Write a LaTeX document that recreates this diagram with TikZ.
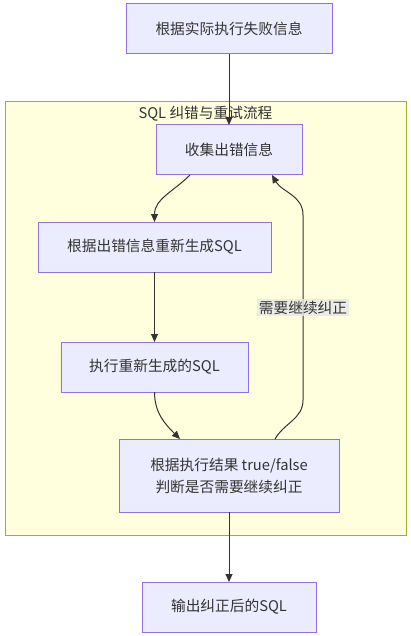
\documentclass[tikz,border=0pt]{standalone}
\usepackage{fontspec}
\setmainfont{Noto Sans CJK SC}
\usetikzlibrary{arrows.meta,positioning}
\definecolor{nodefill}{HTML}{ECECFF}
\definecolor{nodeline}{HTML}{9370DB}
\definecolor{clusterfill}{HTML}{FFFFDE}
\definecolor{clusterline}{HTML}{AAAA33}
\definecolor{edgegray}{HTML}{333333}
\definecolor{labelgray}{HTML}{E8E8E8}
\tikzset{
  box/.style={
    draw=nodeline,
    fill=nodefill,
    line width=1pt,
    align=center,
    inner sep=0pt,
    outer sep=0pt,
    minimum height=50pt,
    text=edgegray,
    font=\fontsize{14.7}{22}\selectfont
  },
  cluster/.style={draw=clusterline, fill=clusterfill, line width=1pt, inner sep=0pt},
  clustertitle/.style={text=edgegray, inner sep=0pt, font=\fontsize{14.7}{22}\selectfont},
  edgelabel/.style={fill=labelgray, fill opacity=0.8, text opacity=1, inner sep=2pt,
    text=edgegray, font=\fontsize{14.7}{22}\selectfont},
  arrow/.style={-{Triangle[length=8pt,width=7pt]}, line width=1pt, draw=edgegray}
}
\begin{document}
\begin{tikzpicture}[x=1pt, y=-1pt, node distance=47pt]
        \useasboundingbox (0,0) rectangle (410,636);
        \node[cluster, minimum width=401pt, minimum height=433pt] (loop) at (205.5,318.5) {};
        \node[clustertitle, below=4pt of loop.north] (looptitle) {SQL 纠错与重试流程};
        \node[box, minimum width=206pt] (failinfo) at (229,29) {根据实际执行失败信息};
        \node[box, minimum width=146pt, below=71pt of failinfo] (collect) {收集出错信息};
        \node[box, minimum width=233pt, below=of collect, xshift=-74.5pt] (regen) {根据出错信息重新生成SQL};
        \node[box, minimum width=187pt, below=70pt of regen] (runsql) {执行重新生成的SQL};
        \node[box, minimum width=220pt, minimum height=73pt, below=of runsql, xshift=74.5pt] (judge) {根据执行结果 true/false\\判断是否需要继续纠正};
        \node[box, minimum width=174pt, below=70pt of judge] (output) {输出纠正后的SQL};
        \coordinate (backlow) at (303,400);
        \coordinate (backhigh) at (303,215);
        \draw[arrow] (failinfo) -- (collect);
        \draw[arrow] ([xshift=-39pt]collect.south) to[out=-135, in=90] (regen.north);
        \draw[arrow] (regen) -- (runsql);
        \draw[arrow] (runsql.south) to[out=-90, in=135] ([xshift=-49pt]judge.north);
        \draw[arrow] ([xshift=46pt]judge.north) to[out=60, in=-90] (backlow)
          -- node[edgelabel] (again) {需要继续纠正} (backhigh)
          to[out=90, in=-60] ([xshift=43pt]collect.south);
        \draw[arrow] (judge) -- (output);
      \end{tikzpicture}
\end{document}
